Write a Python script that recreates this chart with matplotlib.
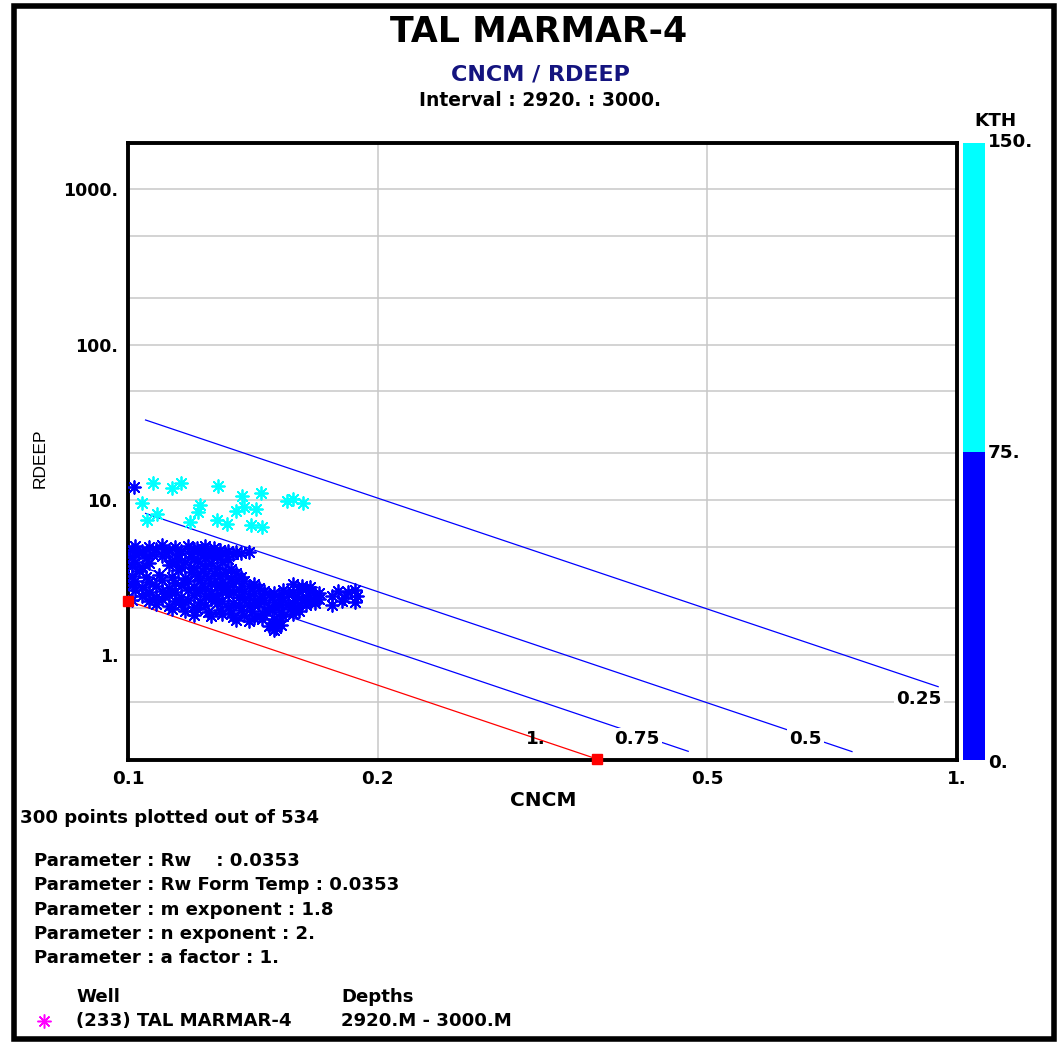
import matplotlib
matplotlib.use('Agg')
import matplotlib.pyplot as plt
from matplotlib.colors import ListedColormap, BoundaryNorm
from matplotlib.cm import ScalarMappable
from matplotlib.patches import Rectangle

plt.rcParams['font.family'] = ['DejaVu Sans']

# ---- data ----
# KTH >= 75 (cyan)
cyan_x = [0.1071, 0.1129, 0.1158, 0.1285, 0.1374, 0.1446, 0.1040, 0.1083, 0.1053, 0.1221, 0.1213,
          0.1188, 0.1279, 0.1318, 0.1350, 0.1380, 0.1427, 0.1406, 0.1450, 0.1554, 0.1583, 0.1627]
cyan_y = [12.75, 11.84, 12.75, 12.25, 10.56, 11.0, 9.48, 8.05, 7.40, 9.25, 8.37,
          7.15, 7.40, 6.94, 8.50, 8.93, 8.68, 6.87, 6.70, 9.81, 10.06, 9.48]

# KTH < 75 (blue)
blue_x = [0.1017,
          0.102, 0.106, 0.110, 0.114, 0.118, 0.121, 0.124, 0.127,
          0.101, 0.104, 0.108, 0.112, 0.116, 0.120, 0.123, 0.126, 0.129, 0.132, 0.135,
          0.103, 0.107, 0.111, 0.115, 0.119, 0.122, 0.125, 0.128, 0.131, 0.134, 0.137, 0.140,
          0.101, 0.105, 0.110, 0.115, 0.119, 0.124, 0.128, 0.132,
          0.102, 0.106, 0.113, 0.117, 0.121, 0.126, 0.130,
          0.101, 0.104, 0.112, 0.116, 0.120, 0.124, 0.128, 0.133,
          0.103, 0.115, 0.119, 0.123, 0.127, 0.131, 0.135,
          0.101, 0.105, 0.109, 0.113, 0.117, 0.121, 0.125, 0.129, 0.133, 0.137,
          0.102, 0.106, 0.110, 0.114, 0.118, 0.122, 0.126, 0.130, 0.134, 0.138, 0.142,
          0.101, 0.104, 0.108, 0.112, 0.116, 0.120, 0.124, 0.128, 0.132, 0.136, 0.140, 0.144, 0.158, 0.162, 0.166,
          0.102, 0.106, 0.110, 0.114, 0.118, 0.122, 0.126, 0.130, 0.134, 0.138, 0.142, 0.146, 0.150, 0.154,
          0.158, 0.162, 0.166, 0.170, 0.179, 0.184, 0.188,
          0.104, 0.108, 0.112, 0.116, 0.120, 0.124, 0.128, 0.132, 0.136, 0.140, 0.144, 0.148, 0.152, 0.156,
          0.160, 0.164, 0.168, 0.176, 0.182, 0.189,
          0.101, 0.106, 0.110, 0.114, 0.118, 0.122, 0.126, 0.130, 0.134, 0.138, 0.142, 0.146, 0.150, 0.154,
          0.158, 0.162, 0.166, 0.170, 0.181, 0.188,
          0.108, 0.112, 0.116, 0.120, 0.124, 0.128, 0.132, 0.136, 0.140, 0.144, 0.148, 0.152, 0.156, 0.160,
          0.164, 0.168, 0.176,
          0.113, 0.117, 0.121, 0.125, 0.129, 0.133, 0.137, 0.141, 0.145, 0.149, 0.153, 0.157, 0.161,
          0.120, 0.126, 0.130, 0.134, 0.138, 0.142, 0.146, 0.150, 0.154, 0.158,
          0.135, 0.140, 0.145, 0.149, 0.152,
          0.148, 0.151, 0.153, 0.150]
blue_y = [12.1,
          5.05, 4.95, 5.10, 4.98, 5.05, 4.90, 5.02, 4.92,
          4.78, 4.70, 4.82, 4.75, 4.68, 4.80, 4.72, 4.64, 4.76, 4.70, 4.62,
          4.55, 4.48, 4.60, 4.45, 4.52, 4.58, 4.42, 4.50, 4.55, 4.47, 4.58, 4.60,
          4.30, 4.22, 4.35, 4.18, 4.28, 4.20, 4.32, 4.15,
          4.00, 3.92, 4.05, 3.95, 4.02, 3.90, 4.00,
          3.75, 3.68, 3.78, 3.70, 3.62, 3.74, 3.66, 3.58,
          3.48, 3.52, 3.42, 3.50, 3.38, 3.45, 3.36,
          3.25, 3.18, 3.28, 3.20, 3.12, 3.24, 3.15, 3.22, 3.10, 3.18,
          3.00, 2.95, 3.04, 2.92, 2.98, 3.06, 2.90, 2.97, 2.93, 3.02, 2.88,
          2.82, 2.75, 2.80, 2.72, 2.84, 2.76, 2.70, 2.80, 2.74, 2.68, 2.78, 2.72, 2.86, 2.80, 2.74,
          2.62, 2.56, 2.60, 2.54, 2.64, 2.58, 2.52, 2.62, 2.55, 2.60, 2.50, 2.58, 2.52, 2.62,
          2.55, 2.66, 2.58, 2.52, 2.60, 2.55, 2.62,
          2.42, 2.38, 2.45, 2.36, 2.44, 2.40, 2.34, 2.46, 2.38, 2.42, 2.35, 2.44, 2.38, 2.46,
          2.40, 2.36, 2.44, 2.40, 2.35, 2.42,
          2.28, 2.24, 2.30, 2.22, 2.27, 2.20, 2.29, 2.23, 2.18, 2.26, 2.21, 2.28, 2.20, 2.25,
          2.18, 2.27, 2.22, 2.30, 2.24, 2.20,
          2.12, 2.08, 2.14, 2.05, 2.10, 2.15, 2.04, 2.11, 2.06, 2.13, 2.03, 2.09, 2.14, 2.05,
          2.10, 2.16, 2.10,
          1.98, 1.92, 1.97, 1.90, 1.95, 1.88, 1.96, 1.91, 1.86, 1.94, 1.89, 1.97, 1.92,
          1.82, 1.78, 1.84, 1.76, 1.81, 1.74, 1.80, 1.72, 1.79, 1.83,
          1.68, 1.65, 1.70, 1.62, 1.67,
          1.55, 1.50, 1.57, 1.45]

# Sw lines (Rw 0.0353, m 1.8, n 2, a 1)
sw_labels = ['1.', '0.75', '0.5', '0.25']
phi_start = [0.100, 0.105, 0.105, 0.105]
phi_end = [0.368, 0.474, 0.747, 0.949]
rt_start = [2.23, 3.63, 8.18, 32.7]
rt_end = [0.214, 0.240, 0.239, 0.626]
label_phi = [0.31, 0.411, 0.657, 0.90]
label_rt = [0.288, 0.288, 0.288, 0.52]

kth_bounds = [0, 75, 150]
kth_colors = ['#0000ff', '#00ffff']

params = ['Parameter : Rw    : 0.0353',
          'Parameter : Rw Form Temp : 0.0353',
          'Parameter : m exponent : 1.8',
          'Parameter : n exponent : 2.',
          'Parameter : a factor : 1.']

W, H = 1062, 1045
fig = plt.figure(figsize=(W / 100, H / 100), dpi=100)


def fx(px):
    return px / W


def fy(py):
    return 1 - py / H


TK = 13.2   # tick / label size
PS = 13.1   # parameter text size

ax = fig.add_axes([fx(128), fy(760), (957 - 128) / W, (760 - 143) / H])
ax.set_xscale('log')
ax.set_yscale('log')
ax.set_xlim(0.1, 1)
ax.set_ylim(0.211, 1990)

ax.set_xticks([0.1, 0.2, 0.5, 1])
ax.set_xticklabels(['0.1', '0.2', '0.5', '1.'])
ax.set_xticks([], minor=True)
ax.set_yticks([1, 10, 100, 1000])
ax.set_yticklabels(['1.', '10.', '100.', '1000.'])
ax.set_yticks([0.5, 2, 5, 20, 50, 200, 500], minor=True)
ax.set_yticklabels([], minor=True)
ax.tick_params(which='both', length=0, labelsize=TK)
ax.tick_params(axis='x', pad=7)
ax.tick_params(axis='y', labelsize=12.5, pad=7)
for lab in ax.get_xticklabels() + ax.get_yticklabels():
    lab.set_fontweight('bold')
ax.grid(which='both', color='#c8c8c8', lw=1.1)
ax.set_axisbelow(True)
for s in ax.spines.values():
    s.set_linewidth(2.8)

# Sw lines
for i, lab in enumerate(sw_labels):
    col = '#ff0000' if i == 0 else '#0000ff'
    ax.plot([phi_start[i], phi_end[i]], [rt_start[i], rt_end[i]], color=col, lw=0.9, zorder=2)
    if i == 0:
        ax.plot([phi_start[i], phi_end[i]], [rt_start[i], rt_end[i]], ls='none', marker='s',
                ms=7, color='#ff0000', zorder=5, clip_on=False)
        ax.text(label_phi[i], label_rt[i], lab, ha='center', va='center', fontsize=TK,
                fontweight='bold', zorder=4)
    else:
        ax.text(label_phi[i], label_rt[i], lab, ha='center', va='center', fontsize=TK,
                fontweight='bold', zorder=4,
                bbox=dict(facecolor='white', edgecolor='none', pad=1.5))

ax.scatter(blue_x, blue_y, marker=(8, 2, 0), s=85, color=kth_colors[0], lw=1.3, zorder=3)
ax.scatter(cyan_x, cyan_y, marker=(8, 2, 0), s=85, color=kth_colors[1], lw=1.3, zorder=3)

# colour bar for KTH
cax = fig.add_axes([fx(963), fy(760), 22 / W, 617 / H])
cmap = ListedColormap(kth_colors)
norm = BoundaryNorm(kth_bounds, cmap.N)
cb = fig.colorbar(ScalarMappable(norm=norm, cmap=cmap), cax=cax)
cb.outline.set_visible(False)
cb.set_ticks([])
cax.tick_params(which='both', length=0)
fig.text(fx(995), fy(121), 'KTH', ha='center', va='center', fontsize=TK, fontweight='bold')
fig.text(fx(988), fy(142), '150.', ha='left', va='center', fontsize=TK, fontweight='bold')
fig.text(fx(988), fy(453), '75.', ha='left', va='center', fontsize=TK, fontweight='bold')
fig.text(fx(988), fy(763), '0.', ha='left', va='center', fontsize=TK, fontweight='bold')

# titles
fig.text(fx(539), fy(32), 'TAL MARMAR-4', ha='center', va='center', fontsize=25, fontweight='bold')
fig.text(fx(540), fy(74), 'CNCM / RDEEP', ha='center', va='center', fontsize=16,
         fontweight='bold', color='#14147f')
fig.text(fx(540), fy(101), 'Interval : 2920. : 3000.', ha='center', va='center', fontsize=13.5,
         fontweight='bold')
fig.text(fx(40), fy(458), 'RDEEP', ha='center', va='center', rotation=90, fontsize=12.5,
         family='Liberation Sans')
fig.text(fx(543), fy(800), 'CNCM', ha='center', va='center', fontsize=14.5, fontweight='bold')

fig.text(fx(20), fy(818), '300 points plotted out of 534', ha='left', va='center', fontsize=PS,
         fontweight='bold')
for i, p in enumerate(params):
    fig.text(fx(34), fy(861 + 24.3 * i), p, ha='left', va='center', fontsize=PS, fontweight='bold')

fig.text(fx(76), fy(997), 'Well', ha='left', va='center', fontsize=PS, fontweight='bold')
fig.text(fx(341), fy(997), 'Depths', ha='left', va='center', fontsize=PS, fontweight='bold')
fig.lines.append(plt.Line2D([fx(44)], [fy(1021)], marker=(8, 2, 0), ms=10, color='#ff00ff',
                            mew=1.1, transform=fig.transFigure))
fig.text(fx(76), fy(1021), '(233) TAL MARMAR-4', ha='left', va='center', fontsize=PS,
         fontweight='bold')
fig.text(fx(341), fy(1021), '2920.M - 3000.M', ha='left', va='center', fontsize=PS,
         fontweight='bold')

# outer frame
fig.patches.append(Rectangle((fx(14), fy(1039)), (1054 - 14) / W, (1039 - 6) / H, fill=False,
                             edgecolor='black', lw=4, transform=fig.transFigure))

fig.savefig('out.png', dpi=100)
